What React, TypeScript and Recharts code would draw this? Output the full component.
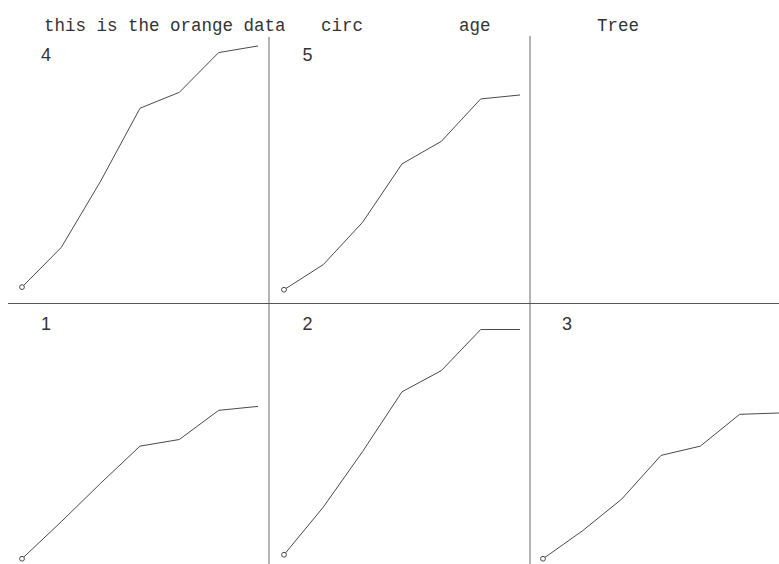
import { LineChart, Line, XAxis, YAxis } from 'recharts';

// Orange data: trunk circumference (mm) at each age (days), per tree
const ages = [118, 484, 664, 1004, 1231, 1372, 1582];
const tree1 = [30, 58, 87, 115, 120, 142, 145];
const tree2 = [33, 69, 111, 156, 172, 203, 203];
const tree3 = [30, 51, 75, 108, 115, 139, 140];
const tree4 = [32, 62, 112, 167, 179, 209, 214];
const tree5 = [30, 49, 81, 125, 142, 174, 177];
const circDomain = [20, 220];

const headerWords = ['this is the orange data', 'circ', 'age', 'Tree'];

const PW = 236;
const PH = 265;
const M = 6;
const colLeft = [22, 283.5, 543];
const rowTop = [38.25, 306.75];

const panels = [
  { tree: '4', values: tree4, row: 0, col: 0 },
  { tree: '5', values: tree5, row: 0, col: 1 },
  { tree: '1', values: tree1, row: 1, col: 0 },
  { tree: '2', values: tree2, row: 1, col: 1 },
  { tree: '3', values: tree3, row: 1, col: 2 },
];

const ink = '#4a4a4a';

function FirstDot(props: any) {
  const { cx, cy, index } = props;
  if (index !== 0) return <g key={`d${index}`} />;
  return (
    <circle
      key={`d${index}`}
      cx={cx}
      cy={cy}
      r={2.4}
      fill="#fff"
      stroke={ink}
      strokeWidth={1}
    />
  );
}

function Panel({ values, row, col }: { values: number[]; row: number; col: number }) {
  const data = ages.map((age, i) => ({ age, circ: values[i] }));
  return (
    <div style={{ position: 'absolute', left: colLeft[col] - M, top: rowTop[row] - M }}>
      <LineChart
        width={PW + 2 * M}
        height={PH + 2 * M}
        data={data}
        margin={{ top: M, right: M, bottom: M, left: M }}
      >
        <XAxis dataKey="age" hide />
        <YAxis type="number" domain={circDomain} allowDataOverflow hide />
        <Line
          type="linear"
          dataKey="circ"
          stroke={ink}
          strokeWidth={1}
          dot={FirstDot}
          activeDot={false}
          isAnimationActive={false}
        />
      </LineChart>
    </div>
  );
}

export default function App() {
  const headerX = [44, 321, 459, 597];
  return (
    <div
      style={{
        position: 'absolute',
        left: 0,
        top: 0,
        width: 779,
        height: 564,
        overflow: 'hidden',
        background: '#fff',
      }}
    >
      <svg width={779} height={564} style={{ position: 'absolute', left: 0, top: 0 }}>
        <line x1={269} y1={37} x2={269} y2={564} stroke="#b4b4b4" strokeWidth={2} />
        <line x1={530} y1={36} x2={530} y2={564} stroke="#b4b4b4" strokeWidth={2} />
        <line x1={8} y1={303.5} x2={779} y2={303.5} stroke="#555" strokeWidth={1} />
        {headerWords.map((w, i) => (
          <text
            key={w}
            x={headerX[i]}
            y={31}
            fontFamily="'Liberation Mono', monospace"
            fontSize={17.5}
            fill="#333"
            style={{ whiteSpace: 'pre' }}
          >
            {w}
          </text>
        ))}
        {panels.map((p) => (
          <text
            key={p.tree}
            x={colLeft[p.col] + 19}
            y={p.row === 0 ? 61 : 330}
            fontFamily="'Liberation Sans', sans-serif"
            fontSize={18}
            fill="#333"
          >
            {p.tree}
          </text>
        ))}
      </svg>
      {panels.map((p) => (
        <Panel key={p.tree} values={p.values} row={p.row} col={p.col} />
      ))}
    </div>
  );
}
